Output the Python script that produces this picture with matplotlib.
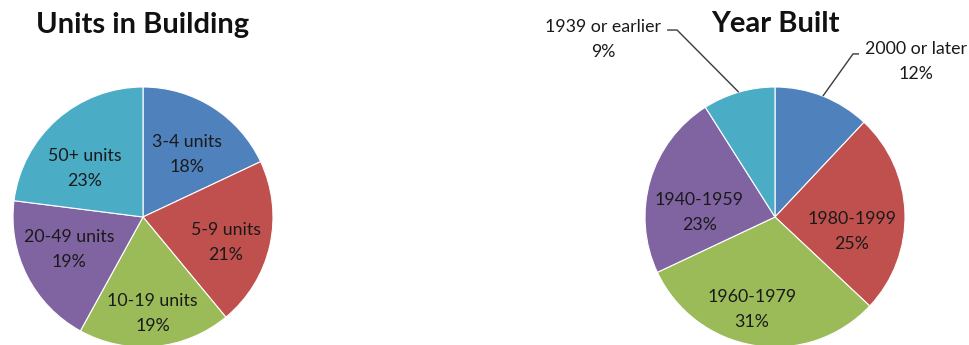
import matplotlib
matplotlib.use("Agg")
import matplotlib.pyplot as plt
import numpy as np

# ---- data ----
units_labels = ["3-4 units", "5-9 units", "10-19 units", "20-49 units", "50+ units"]
units_pct = [18, 21, 19, 19, 23]

year_labels = ["2000 or later", "1980-1999", "1960-1979", "1940-1959", "1939 or earlier"]
year_pct = [12, 25, 31, 23, 9]

slice_colors = ["#4F81BD", "#C0504D", "#9BBB59", "#8064A2", "#4BACC6"]

FONT = ["Lato", "DejaVu Sans"]
TEXT_COLOR = "#1a1a1a"
LABEL_SIZE = 12.8

W, H = 970, 345
fig = plt.figure(figsize=(W / 100, H / 100), dpi=100)
ax = fig.add_axes([0, 0, 1, 1])

R = 130


def draw_pie(values, labels, center, title, title_y, dist, dtheta, leaders):
    wedges, _ = ax.pie(
        values, colors=slice_colors, startangle=90, counterclock=False,
        radius=R, center=center, frame=True,
        wedgeprops=dict(edgecolor="white", linewidth=0.8),
    )
    cx, cy = center
    for w, lab, v, f, dt, ld in zip(wedges, labels, values, dist, dtheta, leaders):
        mid = np.deg2rad((w.theta1 + w.theta2) / 2)
        ang = mid + np.deg2rad(dt)
        tx = cx + R * f * np.cos(ang)
        ty = cy + R * f * np.sin(ang)
        ax.text(tx, ty + 6.5, lab, ha="center", va="baseline", fontsize=LABEL_SIZE,
                family=FONT, color=TEXT_COLOR)
        ax.text(tx, ty - 18.5, f"{v}%", ha="center", va="baseline", fontsize=LABEL_SIZE,
                family=FONT, color=TEXT_COLOR)
        if ld is not None:
            ex, ey, kx = ld
            edge = (cx + R * np.cos(mid), cy + R * np.sin(mid))
            elbow = (tx + ex, ty + ey)
            tick = (tx + kx, ty + ey)
            ax.plot([edge[0], elbow[0], tick[0]], [edge[1], elbow[1], tick[1]],
                    color="#3a3a3a", lw=1.0, solid_capstyle="butt", zorder=5)
    ax.text(cx, title_y, title, ha="center", va="baseline", fontsize=21,
            fontweight="bold", family=FONT, color="#111111")


draw_pie(units_pct, units_labels, (143, 128), "Units in Building", H - 33,
         dist=[0.594, 0.665, 0.742, 0.621, 0.589],
         dtheta=[-2.4, -4.2, 0.4, -3.8, 8.2],
         leaders=[None] * 5)

draw_pie(year_pct, year_labels, (775, 128), "Year Built", H - 32,
         dist=[1.618, 0.60, 0.726, 0.586, 1.909],
         dtheta=[-20.5, -11.4, -5.1, 11.7, 27.65],
         leaders=[(-63, 7, -57), None, None, None, (74, 8, 64)])

ax.set_xlim(0, W)
ax.set_ylim(0, H)
ax.set_aspect("equal", adjustable="box")
ax.axis("off")

fig.savefig("out.png", dpi=100, facecolor="white")
